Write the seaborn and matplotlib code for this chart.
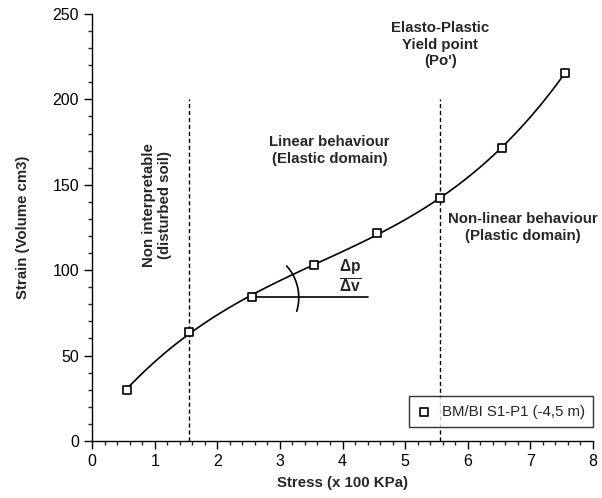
import numpy as np
import pandas as pd
import matplotlib
matplotlib.use("Agg")
import matplotlib.pyplot as plt
import seaborn as sns

# pressuremeter test readings
stress = [0.55, 1.55, 2.55, 3.55, 4.55, 5.55, 6.55, 7.55]
strain = [30, 64, 84, 103, 122, 142, 171.5, 215.5]
series_label = "BM/BI S1-P1 (-4,5 m)"

disturbed_limit = 1.55
yield_point = 5.55
limit_top = 200

df = pd.DataFrame({"stress": stress, "strain": strain})

sns.set_style("ticks")
plt.rcParams["font.family"] = ["Liberation Sans", "DejaVu Sans"]
plt.rcParams["mathtext.fontset"] = "custom"
plt.rcParams["mathtext.bf"] = "Liberation Sans:bold"
plt.rcParams["mathtext.rm"] = "Liberation Sans"

fig = plt.figure(figsize=(6.02, 4.98), dpi=100)
ax = fig.add_axes([0.153, 0.1145, 0.832, 0.8575])

# smoothed curve through the readings
sns.regplot(data=df, x="stress", y="strain", order=3, scatter=False, ci=None,
            line_kws={"color": "black", "lw": 1.2}, ax=ax)
sns.scatterplot(data=df, x="stress", y="strain", marker="s", s=38,
                facecolor="white", edgecolor="black", linewidth=1.2,
                label=series_label, zorder=5, ax=ax)

# domain limits
ax.plot([disturbed_limit, disturbed_limit], [0, limit_top], color="black",
        lw=1, ls=(0, (3, 2)), zorder=1)
ax.plot([yield_point, yield_point], [0, limit_top], color="black",
        lw=1, ls=(0, (3, 2)), zorder=1)

# slope annotation at third reading
cx, cy = stress[2], strain[2]
ax.plot([cx, 4.4], [cy, cy], color="black", lw=1.2)
t = np.radians(np.linspace(-17, 42, 40))
ax.plot(cx + 47 / 62.6 * np.cos(t), cy + 47 / 1.708 * np.sin(t), color="black", lw=1.2)
ax.text(4.12, 96, r"$\frac{\mathbf{\Delta p}}{\mathbf{\Delta v}}$", ha="center",
        va="center", fontsize=16)

bold = dict(fontsize=10.8, fontweight="bold", ha="center", va="center")
ax.text(1.04, 138, "Non interpretable\n(disturbed soil)", rotation=90, **bold)
ax.text(3.79, 170, "Linear behaviour\n(Elastic domain)", **bold)
ax.text(5.56, 232, "Elasto-Plastic\nYield point\n(Po')", **bold)
ax.text(6.88, 125, "Non-linear behaviour\n(Plastic domain)", **bold)

ax.set_xlim(0, 8)
ax.set_ylim(0, 250)
ax.set_xticks(range(0, 9))
ax.set_yticks(range(0, 251, 50))
ax.set_xticks(np.arange(0, 8.01, 0.2), minor=True)
ax.set_yticks(range(0, 251, 10), minor=True)
ax.tick_params(axis="both", which="major", direction="out", length=6, width=1,
               labelsize=11.5, colors="black")
ax.tick_params(axis="both", which="minor", direction="out", length=3, width=1)
ax.set_xlabel("Stress (x 100 KPa)", fontsize=10.8, fontweight="bold", labelpad=5)
ax.set_ylabel("Strain (Volume cm3)", fontsize=10.8, fontweight="bold", labelpad=16)
sns.despine(ax=ax)
for sp in ax.spines.values():
    sp.set_color("black")
    sp.set_linewidth(1)

leg = ax.legend(loc="lower right", bbox_to_anchor=(1.0, 0.033), fontsize=10.8,
                frameon=True, fancybox=False, borderpad=0.55, handlelength=0.9,
                handletextpad=0.7, borderaxespad=0)
leg.get_frame().set_edgecolor("black")
leg.get_frame().set_linewidth(1)
leg.set_zorder(10)

fig.savefig("out.png", dpi=100)
